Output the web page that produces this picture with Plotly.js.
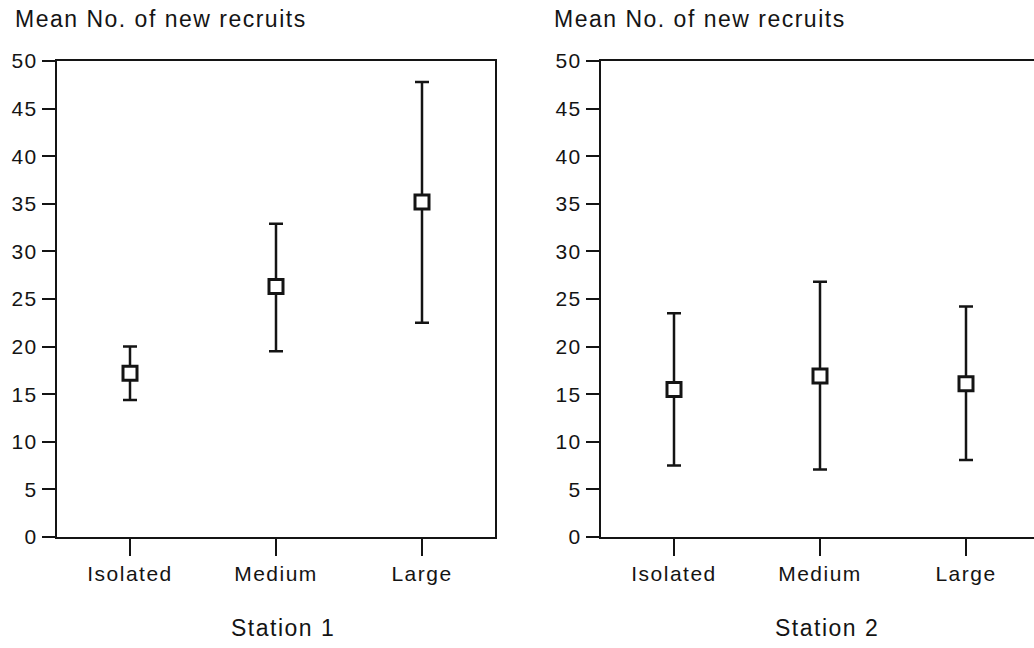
<!DOCTYPE html>
<html>
<head>
<meta charset="utf-8">
<script src="https://cdn.plot.ly/plotly-3.0.1.min.js"></script>
<style>
  html, body { margin: 0; padding: 0; background: #fff; overflow: hidden; }
  #chart { width: 1040px; height: 648px; }
  text { letter-spacing: 1.5px; }
</style>
</head>
<body>
<div id="chart"></div>
<script>
// Data
const categories = ["Isolated", "Medium", "Large"];
const station1Mean  = [17.2, 26.3, 35.2];
const station1Upper = [20.0, 32.9, 47.8];
const station1Lower = [14.4, 19.5, 22.5];
const station2Mean  = [15.5, 16.9, 16.1];
const station2Upper = [23.5, 26.8, 24.2];
const station2Lower = [7.5, 7.1, 8.1];
const yTicks = [0, 5, 10, 15, 20, 25, 30, 35, 40, 45, 50];
const yAxisLabel = "Mean No. of new recruits";
const panelTitles = ["Station 1", "Station 2"];

const ink = "#141414";
const fontFamily = "Liberation Sans, Arial, Helvetica, sans-serif";

function makeTrace(mean, upper, lower, xa, ya) {
  return {
    type: "scatter",
    mode: "markers",
    x: categories,
    y: mean,
    xaxis: xa,
    yaxis: ya,
    marker: { symbol: "square", size: 14, color: "#ffffff", line: { color: ink, width: 3 } },
    error_y: {
      type: "data",
      symmetric: false,
      array: upper.map((u, i) => u - mean[i]),
      arrayminus: lower.map((l, i) => mean[i] - l),
      color: ink,
      thickness: 2.5,
      width: 7
    },
    showlegend: false,
    hoverinfo: "skip"
  };
}

function xAxis(domain, anchor) {
  return {
    domain: domain,
    anchor: anchor,
    type: "category",
    categoryorder: "array",
    categoryarray: categories,
    range: [-0.5, 2.5],
    showgrid: false,
    zeroline: false,
    showline: true,
    linecolor: ink,
    linewidth: 2,
    mirror: true,
    ticks: "outside",
    ticklen: 17,
    tickwidth: 2,
    tickcolor: ink,
    tickfont: { family: fontFamily, size: 21, color: ink },
    automargin: false,
    fixedrange: true
  };
}

function yAxis(domain, anchor) {
  return {
    domain: domain,
    anchor: anchor,
    range: [0, 50],
    tickvals: yTicks,
    ticktext: yTicks.map(String),
    showgrid: false,
    zeroline: false,
    showline: true,
    linecolor: ink,
    linewidth: 2,
    mirror: true,
    ticks: "outside",
    ticklen: 13,
    tickwidth: 2,
    tickcolor: ink,
    tickfont: { family: fontFamily, size: 21, color: ink },
    automargin: false,
    fixedrange: true
  };
}

const data = [
  makeTrace(station1Mean, station1Upper, station1Lower, "x", "y"),
  makeTrace(station2Mean, station2Upper, station2Lower, "x2", "y2")
];

const W = 1040, H = 648;
const yDom = [111 / H, 587 / H];

function note(text, x, y, anchor, size) {
  return { text: text, xref: "paper", yref: "paper", x: x / W, y: (H - y) / H,
    xanchor: anchor, yanchor: "middle", showarrow: false,
    font: { family: fontFamily, size: size, color: ink } };
}

const layout = {
  width: W,
  height: H,
  margin: { l: 0, r: 0, t: 0, b: 0 },
  paper_bgcolor: "#ffffff",
  plot_bgcolor: "#ffffff",
  font: { family: fontFamily, color: ink },
  xaxis: xAxis([57 / W, 495 / W], "y"),
  yaxis: yAxis(yDom, "x"),
  xaxis2: xAxis([601 / W, 1039 / W], "y2"),
  yaxis2: yAxis(yDom, "x2"),
  annotations: [
    note(yAxisLabel, 13, 19, "left", 23),
    note(yAxisLabel, 552, 19, "left", 23),
    note(panelTitles[0], 283, 628, "center", 23),
    note(panelTitles[1], 827, 628, "center", 23)
  ]
};

Plotly.newPlot("chart", data, layout, { displayModeBar: false, staticPlot: true });
</script>
</body>
</html>
